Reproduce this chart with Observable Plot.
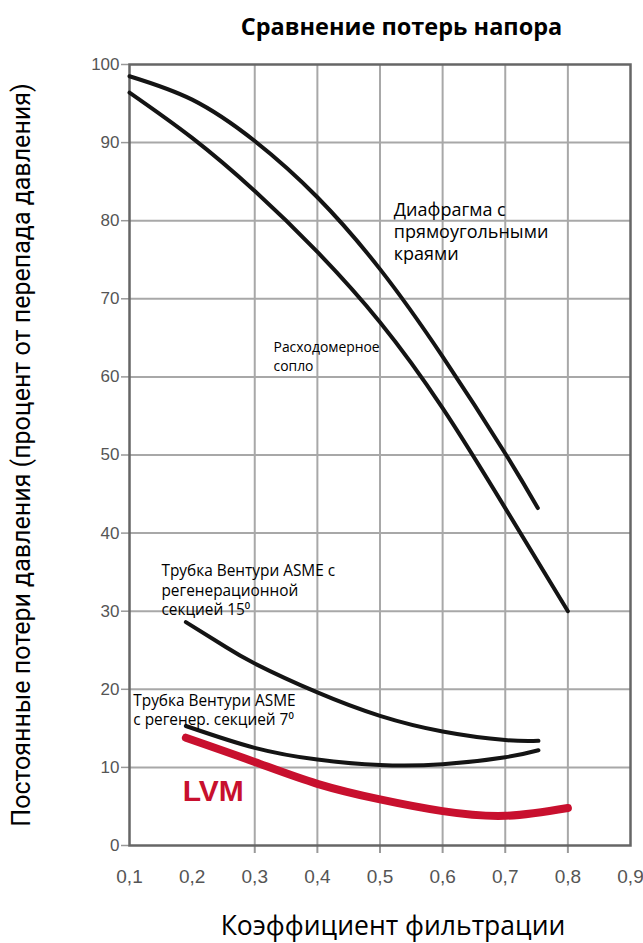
<!DOCTYPE html>
<html>
<head>
<meta charset="utf-8">
<script src="https://cdn.jsdelivr.net/npm/d3@7"></script>
<script src="https://cdn.jsdelivr.net/npm/@observablehq/plot@0.6"></script>
<style>
  html, body { margin: 0; padding: 0; background: #fff; }
  #title {
    height: 40px; box-sizing: border-box; padding-top: 12px; padding-left: 160px;
    font: bold 23.5px "Open Sans", sans-serif; line-height: 28px; text-align: center; color: #000;
    white-space: nowrap;
  }
  #chart svg { display: block; }
</style>
</head>
<body>
<div id="title">Сравнение потерь напора</div>
<div id="chart"></div>
<script>
// ---- data ----
const orificeX = [0.1, 0.2, 0.3, 0.4, 0.5, 0.6, 0.7, 0.752];
const orificeY = [98.5, 95.5, 90.2, 83.0, 73.8, 62.6, 50.2, 43.2];

const nozzleX = [0.1, 0.2, 0.3, 0.4, 0.5, 0.6, 0.7, 0.8];
const nozzleY = [96.4, 90.6, 83.8, 76.0, 67.0, 56.0, 43.2, 30.0];

const venturi15X = [0.19, 0.25, 0.3, 0.4, 0.5, 0.6, 0.7, 0.753];
const venturi15Y = [28.6, 25.6, 23.3, 19.6, 16.6, 14.6, 13.5, 13.4];

const venturi7X = [0.19, 0.3, 0.4, 0.5, 0.6, 0.7, 0.753];
const venturi7Y = [15.3, 12.5, 11.0, 10.3, 10.4, 11.3, 12.2];

const lvmX = [0.19, 0.3, 0.4, 0.5, 0.6, 0.7, 0.8];
const lvmY = [13.8, 10.7, 7.9, 5.9, 4.4, 3.8, 4.8];

const xTickLabels = [0.1, 0.2, 0.3, 0.4, 0.5, 0.6, 0.7, 0.8, 0.9];
const xGridTicks = [0.3, 0.4, 0.5, 0.6, 0.7, 0.8];
const yTicks = [0, 10, 20, 30, 40, 50, 60, 70, 80, 90, 100];
const yGridTicks = [10, 20, 30, 40, 50, 60, 70, 80, 90];

const annotationTexts = [
  "Диафрагма с\nпрямоугольными\nкраями",
  "Расходомерное\nсопло",
  "Трубка Вентури ASME с\nрегенерационной\nсекцией 15⁰",
  "Трубка Вентури ASME\nс регенер. секцией 7⁰"
];
const annotationX = [0.522, 0.33, 0.151, 0.106];
const annotationY = [82.6, 64.9, 36.3, 19.7];

const lvmLabel = "LVM";
const lvmLabelX = 0.185;
const lvmLabelY = 6.9;

const xTitle = "Коэффициент фильтрации";
const yTitle = "Постоянные потери давления (процент от перепада давления)";

// ---- build tables ----
const toRows = (xs, ys) => xs.map((x, i) => ({x, y: ys[i]}));
const orifice = toRows(orificeX, orificeY);
const nozzle = toRows(nozzleX, nozzleY);
const venturi15 = toRows(venturi15X, venturi15Y);
const venturi7 = toRows(venturi7X, venturi7Y);
const lvm = toRows(lvmX, lvmY);
const annotations = annotationTexts.map((t, i) => ({t, x: annotationX[i], y: annotationY[i]}));

const annStyle = [
  {fontSize: 18, lineHeight: 1.22},
  {fontSize: 13.9, lineHeight: 1.37},
  {fontSize: 15.4, lineHeight: 1.28},
  {fontSize: 15.4, lineHeight: 1.28}
];

const black = "#141414";
const red = "#c8102e";

const chart = Plot.plot({
  width: 643,
  height: 903,
  marginTop: 24,
  marginBottom: 98,
  marginLeft: 129,
  marginRight: 13,
  style: {fontFamily: "Liberation Sans, Arial, sans-serif", background: "#fff"},
  x: {domain: [0.1, 0.9]},
  y: {domain: [0, 100]},
  marks: [
    Plot.gridY(yGridTicks, {stroke: "#a8a8a8", strokeOpacity: 1, strokeWidth: 2}),
    Plot.gridX(xGridTicks, {stroke: "#a8a8a8", strokeOpacity: 1, strokeWidth: 2}),
    Plot.axisY(yTicks, {tickSize: 8, tickPadding: 2, fontSize: 17, fill: "#555", stroke: "#999", strokeWidth: 1.5, label: null}),
    Plot.axisX(xTickLabels, {tickSize: 0, tickPadding: 24, fontSize: 19, fill: "#555",
      tickFormat: d => d.toFixed(1).replace(".", ","), label: null}),
    Plot.axisX(xGridTicks, {tickSize: 8, tickFormat: () => "", stroke: "#999", strokeWidth: 2, label: null}),
    Plot.frame({stroke: "#666", strokeWidth: 2.5}),
    Plot.line(orifice, {x: "x", y: "y", curve: "natural", stroke: black, strokeWidth: 4}),
    Plot.line(nozzle, {x: "x", y: "y", curve: "natural", stroke: black, strokeWidth: 4}),
    Plot.line(venturi15, {x: "x", y: "y", curve: "natural", stroke: black, strokeWidth: 4}),
    Plot.line(venturi7, {x: "x", y: "y", curve: "natural", stroke: black, strokeWidth: 4}),
    Plot.line(lvm, {x: "x", y: "y", curve: "natural", stroke: red, strokeWidth: 8}),
    ...annotations.map((a, i) => Plot.text([a], {
      x: "x", y: "y", text: "t", textAnchor: "start", lineAnchor: "top",
      fontSize: annStyle[i].fontSize, lineHeight: annStyle[i].lineHeight,
      fontFamily: "Open Sans, sans-serif", fill: "#000"
    })),
    Plot.text([lvmLabel], {x: () => lvmLabelX, y: () => lvmLabelY, text: d => d, textAnchor: "start",
      lineAnchor: "middle", fontSize: 30, fontWeight: "bold", fill: red,
      fontFamily: "Liberation Sans, Arial, sans-serif"}),
    Plot.text([xTitle], {frameAnchor: "bottom", dx: 13, dy: 81, lineAnchor: "middle", fontSize: 26.5,
      fontFamily: "Open Sans, sans-serif", fill: "#000"}),
    Plot.text([yTitle], {frameAnchor: "left", dx: -108, rotate: -90, textAnchor: "middle", lineAnchor: "middle", fontSize: 25,
      fontFamily: "Roboto, sans-serif", fill: "#000"})
  ]
});
document.getElementById("chart").appendChild(chart);
</script>
</body>
</html>
